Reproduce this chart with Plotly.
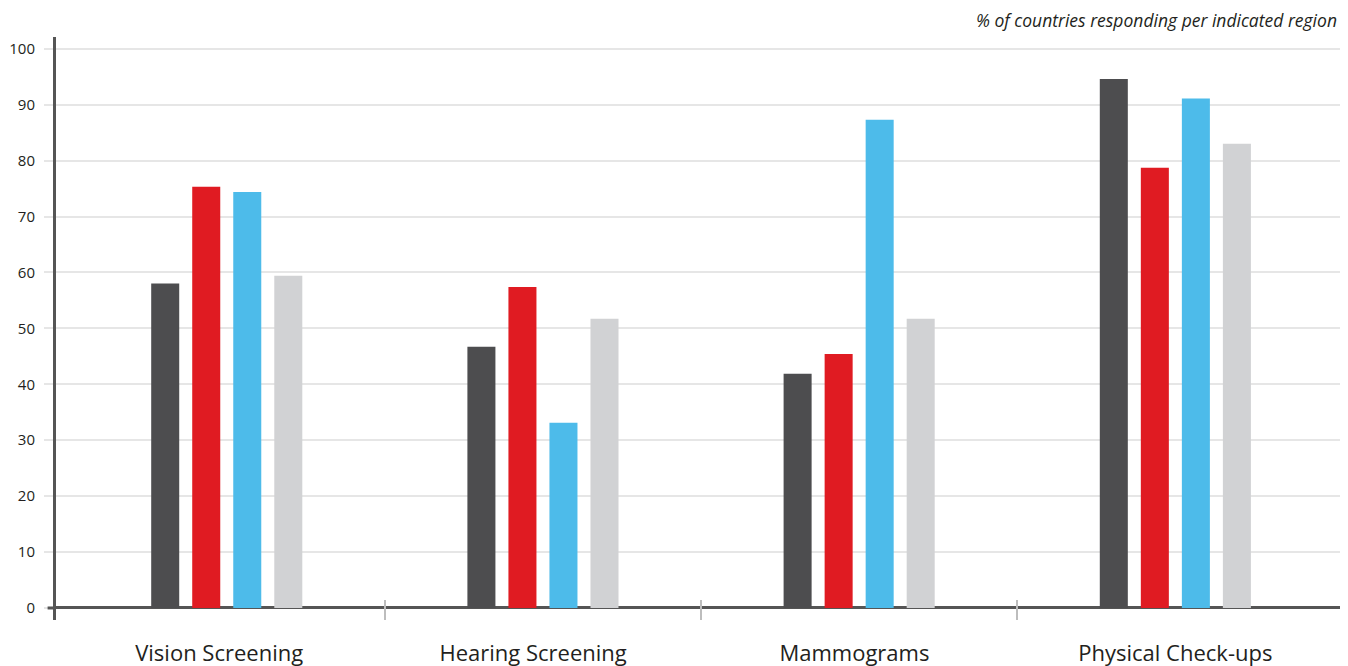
import plotly.graph_objects as go

categories = ["Vision Screening", "Hearing Screening", "Mammograms", "Physical Check-ups"]
series_names = ["Region A", "Region B", "Region C", "Region D"]
series_a = [58.0, 46.7, 41.9, 94.6]
series_b = [75.3, 57.4, 45.4, 78.7]
series_c = [74.4, 33.1, 87.3, 91.1]
series_d = [59.4, 51.7, 51.7, 83.0]
y_ticks = [0, 10, 20, 30, 40, 50, 60, 70, 80, 90, 100]
note = "% of countries responding per indicated region"

colors = ["#4d4d4f", "#e01b22", "#4dbbea", "#d1d2d4"]
x_pos = list(range(len(categories)))
label_pos = [-0.024, 0.969, 1.985, 3.0]  # category labels sit slightly off the bar-group centres

fig = go.Figure()
for name, vals, col in zip(series_names, [series_a, series_b, series_c, series_d], colors):
    fig.add_trace(go.Bar(x=x_pos, y=vals, name=name, marker=dict(color=col, line=dict(width=0)),
                         showlegend=False))

font_family = "Open Sans, Noto Sans, sans-serif"
# page body has an 8px default margin: figure is 1340x658 so it ends at the window edge
fig.update_layout(
    width=1340, height=658,
    margin=dict(l=48, r=0, t=29, b=46, autoexpand=False),
    paper_bgcolor="white", plot_bgcolor="white",
    barmode="group", bargap=0.481, bargroupgap=0.317,
    font=dict(family=font_family, color="#231f20"),
    xaxis=dict(
        range=[-0.54, 3.546], automargin=False,
        tickmode="array", tickvals=label_pos, ticktext=categories,
        ticks="", showgrid=False, zeroline=False, showline=False,
        tickfont=dict(size=22, color="#231f20"),
        ticklabelstandoff=18,
        minor=dict(tickmode="array", tickvals=[0.5, 1.5, 2.5], ticks="inside",
                   ticklen=20, tickwidth=1.5, tickcolor="#bdbdbd", showgrid=False),
    ),
    yaxis=dict(
        range=[-2.15, 102.1], automargin=False,
        tickmode="array", tickvals=y_ticks,
        ticks="outside", ticklen=9, tickcolor="#e6e6e6", tickwidth=1.5,
        showgrid=True, gridcolor="#e6e6e6", gridwidth=1.5,
        zeroline=True, zerolinecolor="#555555", zerolinewidth=3,
        showline=True, linecolor="#555555", linewidth=3,
        tickfont=dict(size=15, color="#231f20"),
        ticklabelstandoff=6,
    ),
    annotations=[dict(
        text=note, xref="paper", yref="paper", x=0.993, y=1.029,
        xanchor="right", yanchor="middle", showarrow=False,
        font=dict(size=17.5, style="italic", color="#231f20", family=font_family),
    )],
    shapes=[dict(type="line", xref="paper", yref="y", x0=-0.0065, x1=0, y0=0, y1=0,
                 line=dict(color="#555555", width=3))],
)

fig.write_html("out.html")
